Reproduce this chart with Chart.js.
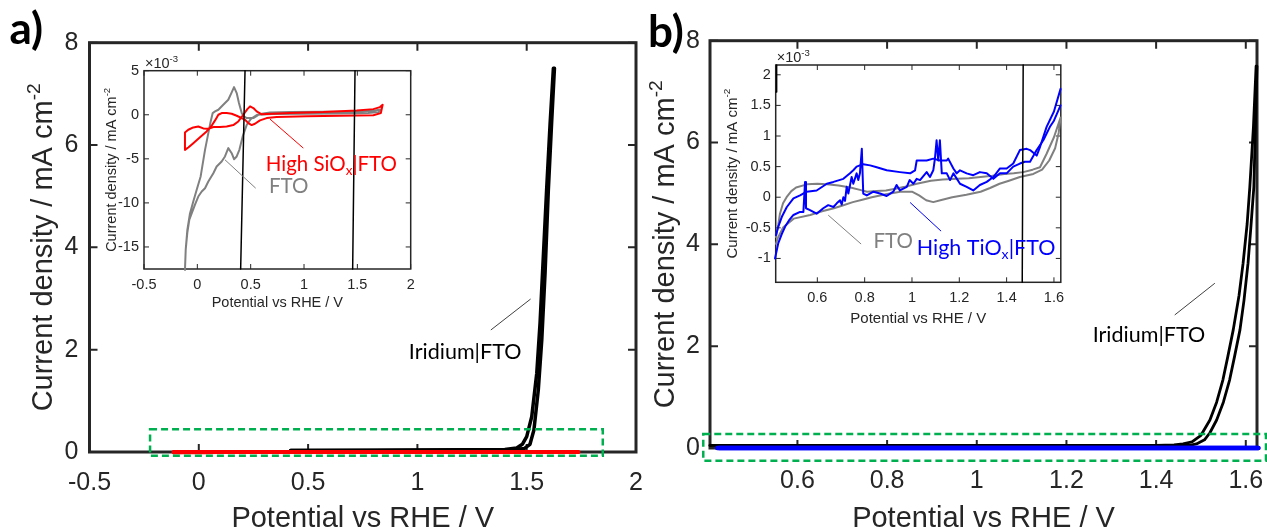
<!DOCTYPE html>
<html>
<head>
<meta charset="utf-8">
<title>OER sweeps on FTO</title>
<script src="https://cdn.jsdelivr.net/npm/chart.js@4.4.1/dist/chart.umd.min.js"></script>
<style>
  html, body { margin: 0; padding: 0; background: #fff; }
  #wrap { position: relative; width: 1267px; height: 531px; overflow: hidden; }
  #wrap canvas { position: absolute; left: 0; top: 0; }
</style>
</head>
<body>
<div id="wrap">
  <canvas id="mainA" width="1267" height="531"></canvas>
  <canvas id="mainB" width="1267" height="531"></canvas>
  <canvas id="insetA" width="1267" height="531"></canvas>
  <canvas id="insetB" width="1267" height="531"></canvas>
</div>
<script>
// ---- tick values ----
const potentialTicksA = [-0.5, 0, 0.5, 1, 1.5, 2];
const potentialTicksB = [0.6, 0.8, 1, 1.2, 1.4, 1.6];
const currentTicksMain = [0, 2, 4, 6, 8];
const currentTicksInsetA = [-15, -10, -5, 0, 5];
const currentTicksInsetB = [-1, -0.5, 0, 0.5, 1, 1.5, 2];

// ---- panel a: [potential V, current density mA cm-2] ----
const iridiumA1 = [[0.42, 0.03], [0.8, 0.03], [1.2, 0.04], [1.4, 0.05], [1.454, 0.08], [1.48, 0.15], [1.5, 0.3],
  [1.523, 0.69], [1.546, 1.54], [1.561, 2.52], [1.576, 3.82], [1.591, 5.12], [1.607, 6.42], [1.622, 7.5]];
const iridiumA2 = [[1.627, 7.5], [1.614, 6.43], [1.599, 5.12], [1.584, 3.49], [1.569, 2.19], [1.553, 1.21],
  [1.533, 0.43], [1.515, 0.15], [1.49, 0.07], [1.45, 0.05], [1.0, 0.04], [0.42, 0.03]];

// inset a, current density in 1e-3 mA cm-2
const ftoCvA = [[-0.116, -17.6], [-0.109, -15.3], [-0.094, -13.1], [-0.069, -11.2], [-0.038, -9.85], [-0.006, -8.5],
  [0.031, -7.0], [0.072, -3.98], [0.103, -2.08], [0.125, -0.76], [0.144, 0.19], [0.166, 0.38], [0.197, 0.57],
  [0.243, 1.14], [0.29, 1.7], [0.322, 2.54], [0.344, 3.14], [0.369, 2.46], [0.39, 1.33], [0.416, 0.19],
  [0.437, -0.19], [0.463, -0.38], [0.525, -0.38], [0.587, 0.1], [0.681, 0.25], [0.869, 0.3], [1.181, 0.33],
  [1.494, 0.38], [1.65, 0.45], [1.72, 0.6], [1.70, 0.3], [1.6, 0.2], [1.3, 0.15], [1.0, 0.12], [0.7, 0.1],
  [0.56, 0.0], [0.5, -0.5], [0.463, -1.14], [0.425, -2.46], [0.394, -3.98], [0.369, -4.73], [0.344, -5.04],
  [0.322, -4.36], [0.29, -3.79], [0.259, -4.73], [0.228, -5.3], [0.181, -5.87], [0.15, -6.63], [0.103, -7.58],
  [0.072, -8.33], [0.041, -8.71], [0.009, -9.28], [-0.022, -10.2], [-0.053, -11.2], [-0.075, -11.9],
  [-0.094, -13.4], [-0.109, -15.3], [-0.116, -17.6]];
const sioxCvA = [[-0.116, -2.01], [-0.085, -1.7], [-0.038, -1.44], [0.009, -1.33], [0.056, -1.55], [0.103, -1.59],
  [0.15, -1.4], [0.212, -1.4], [0.275, -1.33], [0.337, -1.17], [0.384, -0.76], [0.431, 0.0], [0.469, 0.64],
  [0.494, 0.95], [0.525, 0.76], [0.556, 0.38], [0.603, 0.05], [0.65, 0.1], [0.869, 0.2], [1.181, 0.3],
  [1.494, 0.49], [1.65, 0.64], [1.712, 0.87], [1.737, 1.14], [1.72, 0.19], [1.65, -0.05], [1.337, -0.12],
  [1.025, -0.18], [0.744, -0.25], [0.65, -0.38], [0.587, -0.64], [0.54, -1.02], [0.509, -1.17], [0.478, -0.95],
  [0.447, -0.57], [0.416, -0.38], [0.369, -0.11], [0.322, 0.11], [0.275, 0.19], [0.228, 0.19], [0.197, 0.0],
  [0.166, -0.64], [0.134, -1.25], [0.087, -1.89], [0.025, -2.54], [-0.038, -3.22], [-0.085, -3.71],
  [-0.116, -3.98], [-0.116, -2.01]];
const iridiumInsetA1 = [[0.406, -17.5], [0.447, 5]];
const iridiumInsetA2 = [[1.456, -17.5], [1.478, 5]];

// ---- panel b ----
const iridiumB1 = [[0.405, 0.05], [0.8, 0.05], [1.2, 0.05], [1.4, 0.05], [1.44, 0.06], [1.46, 0.08], [1.48, 0.12],
  [1.5, 0.25], [1.52, 0.55], [1.535, 0.9], [1.549, 1.34], [1.56, 1.8], [1.572, 2.32], [1.585, 3.0], [1.594, 3.63],
  [1.603, 4.4], [1.609, 5.13], [1.617, 6.3], [1.623, 7.5]];
const iridiumB2 = [[1.625, 7.5], [1.618, 5.13], [1.611, 4.3], [1.605, 3.63], [1.596, 2.9], [1.587, 2.32],
  [1.575, 1.8], [1.564, 1.34], [1.55, 0.9], [1.535, 0.55], [1.52, 0.3], [1.508, 0.16], [1.49, 0.08],
  [1.475, 0.05], [1.44, 0.05], [1.0, 0.05], [0.405, 0.05]];

// inset b, current density in 1e-3 mA cm-2
const ftoCvB = [[0.425, -0.65], [0.435, -0.45], [0.442, -0.27], [0.455, -0.1], [0.47, 0.0], [0.49, 0.1],
  [0.51, 0.16], [0.556, 0.21], [0.6, 0.22], [0.64, 0.21], [0.69, 0.19], [0.74, 0.16], [0.78, 0.12], [0.81, 0.09],
  [0.85, 0.1], [0.89, 0.11], [0.93, 0.14], [0.97, 0.17], [1.02, 0.22], [1.08, 0.27], [1.13, 0.29], [1.19, 0.3],
  [1.24, 0.31], [1.29, 0.33], [1.34, 0.35], [1.39, 0.38], [1.43, 0.39], [1.47, 0.41], [1.51, 0.45], [1.541, 0.49],
  [1.569, 0.71], [1.6, 0.98], [1.628, 1.3], [1.62, 1.05], [1.605, 0.8], [1.58, 0.6], [1.55, 0.45], [1.513, 0.38],
  [1.456, 0.33], [1.41, 0.27], [1.37, 0.22], [1.33, 0.15], [1.29, 0.09], [1.23, 0.04], [1.17, 0.0], [1.12, -0.05],
  [1.09, -0.08], [1.06, -0.05], [1.03, 0.03], [1.0, 0.09], [0.95, 0.09], [0.89, 0.05], [0.83, 0.0], [0.79, -0.04],
  [0.75, -0.08], [0.71, -0.13], [0.67, -0.18], [0.62, -0.23], [0.57, -0.29], [0.5, -0.35], [0.456, -0.49],
  [0.435, -0.65], [0.425, -0.76]];
const tioxAnodicB = [[0.421, -1.0], [0.435, -0.75], [0.45, -0.6], [0.464, -0.48], [0.48, -0.38], [0.499, -0.29],
  [0.527, -0.24], [0.541, -0.24], [0.548, 0.25], [0.552, -0.18], [0.569, -0.21], [0.597, -0.27], [0.625, -0.18],
  [0.646, -0.13], [0.668, -0.16], [0.682, -0.1], [0.696, -0.05], [0.703, -0.12], [0.71, 0.0], [0.717, -0.06],
  [0.724, 0.17], [0.731, 0.06], [0.745, 0.33], [0.752, 0.22], [0.766, 0.39], [0.773, 0.28], [0.78, 0.39],
  [0.788, 0.79], [0.794, 0.06], [0.809, 0.03], [0.837, 0.09], [0.865, 0.06], [0.893, 0.02], [0.921, 0.09],
  [0.935, 0.2], [0.949, 0.11], [0.978, 0.17], [0.99, 0.28], [1.006, 0.22], [1.02, 0.3], [1.034, 0.28],
  [1.062, 0.41], [1.076, 0.33], [1.09, 0.44], [1.097, 0.63], [1.104, 0.93], [1.111, 0.6], [1.118, 0.93],
  [1.126, 0.39], [1.147, 0.39], [1.161, 0.28], [1.175, 0.39], [1.203, 0.22], [1.231, 0.17], [1.259, 0.11],
  [1.287, 0.2], [1.316, 0.25], [1.344, 0.33], [1.372, 0.47], [1.4, 0.47], [1.428, 0.55], [1.456, 0.77],
  [1.485, 0.79], [1.499, 0.77], [1.527, 0.68], [1.541, 0.82], [1.569, 1.15], [1.6, 1.4], [1.628, 1.77]];
const tioxCathodicB = [[1.628, 1.5], [1.6, 1.25], [1.583, 1.15], [1.555, 0.93], [1.527, 0.77], [1.499, 0.58],
  [1.477, 0.58], [1.456, 0.55], [1.428, 0.5], [1.4, 0.39], [1.372, 0.39], [1.344, 0.3], [1.316, 0.39],
  [1.287, 0.41], [1.259, 0.36], [1.231, 0.39], [1.203, 0.44], [1.189, 0.39], [1.175, 0.47], [1.153, 0.63],
  [1.147, 0.6], [1.118, 0.6], [1.09, 0.63], [1.062, 0.6], [1.034, 0.6], [1.02, 0.6], [1.013, 0.44],
  [0.992, 0.39], [0.949, 0.41], [0.893, 0.44], [0.851, 0.49], [0.823, 0.52], [0.794, 0.54], [0.766, 0.5],
  [0.752, 0.44], [0.738, 0.39], [0.71, 0.3], [0.668, 0.25], [0.64, 0.22], [0.597, 0.11], [0.555, 0.09],
  [0.527, 0.03], [0.499, -0.02], [0.471, -0.16], [0.45, -0.32], [0.435, -0.48], [0.425, -0.62]];
const iridiumInsetB1 = [[1.466, -1.39], [1.47, 2.16]];
const iridiumInsetB2 = [[0.426, 1.72], [0.428, 2.16]];

// ---- drawing setup ----
const W = 1267, H = 531;
const AXIS_FONT = '"Liberation Sans", Arial, sans-serif';
const NOTE_FONT = 'Lato, "Open Sans", sans-serif';
const INK = '#262626';
const RED = '#ff0000', BLUE = '#0000ff', GREY = '#808080', BLACK = '#000000';
const MILLI = 1e-3;

const toPts = (pairs, k = 1) => pairs.map(([x, y]) => ({ x, y: y * k }));
const trace = (pairs, color, width, k = 1) => ({
  data: toPts(pairs, k), borderColor: color, borderWidth: width, showLine: true, clip: 4,
  pointRadius: 0, fill: false, tension: 0, borderJoinStyle: 'round', borderCapStyle: 'round'
});

// text made of plain / sub / sup runs
function runsWidth(ctx, runs, size, family) {
  let w = 0;
  for (const [t, mode] of runs) {
    ctx.font = `${mode ? size * 0.66 : size}px ${family}`;
    w += ctx.measureText(t).width;
  }
  return w;
}
function drawRuns(ctx, runs, x, y, size, family) {
  let cx = x;
  for (const [t, mode] of runs) {
    ctx.font = `${mode ? size * 0.66 : size}px ${family}`;
    const dy = mode === 'sub' ? size * 0.28 : mode === 'sup' ? -size * 0.42 : 0;
    ctx.fillText(t, cx, y + dy);
    cx += ctx.measureText(t).width;
  }
}

// box with inward tick marks on all four sides
const framePlugin = {
  id: 'frame',
  beforeDraw(chart, args, o) {
    if (!o.fill) return;
    const a = chart.chartArea, ctx = chart.ctx;
    ctx.save();
    ctx.fillStyle = o.fill;
    ctx.fillRect(a.left, a.top, a.width, a.height);
    ctx.restore();
  },
  beforeDatasetsDraw(chart, args, o) {
    const { ctx, chartArea: a, scales: { x, y } } = chart;
    ctx.save();
    ctx.strokeStyle = INK;
    ctx.lineWidth = o.tickWidth;
    ctx.beginPath();
    for (const t of x.ticks) {
      const px = x.getPixelForValue(t.value);
      ctx.moveTo(px, a.bottom); ctx.lineTo(px, a.bottom - o.tick);
      ctx.moveTo(px, a.top); ctx.lineTo(px, a.top + o.tick);
    }
    for (const t of y.ticks) {
      const py = y.getPixelForValue(t.value);
      ctx.moveTo(a.left, py); ctx.lineTo(a.left + o.tick, py);
      ctx.moveTo(a.right, py); ctx.lineTo(a.right - o.tick, py);
    }
    ctx.stroke();
    ctx.lineWidth = o.width;
    ctx.strokeRect(a.left, a.top, a.width, a.height);
    ctx.restore();
  }
};

// axis titles, labels, leader lines and highlight boxes
const notesPlugin = {
  id: 'notes',
  afterDraw(chart, args, o) {
    const { ctx, chartArea: a, scales: { x, y } } = chart;
    const px = v => x.getPixelForValue(v), py = v => y.getPixelForValue(v);
    ctx.save();
    ctx.fillStyle = INK;
    ctx.textBaseline = 'alphabetic';
    if (o.xTitle) {
      const runs = [[o.xTitle.text]];
      const w = runsWidth(ctx, runs, o.xTitle.size, AXIS_FONT);
      drawRuns(ctx, runs, (a.left + a.right) / 2 - w / 2, a.bottom + o.xTitle.gap, o.xTitle.size, AXIS_FONT);
    }
    if (o.yTitle) {
      const runs = [[o.yTitle.text], [o.yTitle.sup, 'sup']];
      const w = runsWidth(ctx, runs, o.yTitle.size, AXIS_FONT);
      ctx.save();
      ctx.translate(a.left - o.yTitle.gap, (a.top + a.bottom) / 2);
      ctx.rotate(-Math.PI / 2);
      drawRuns(ctx, runs, -w / 2, 0, o.yTitle.size, AXIS_FONT);
      ctx.restore();
    }
    if (o.exponent) {
      drawRuns(ctx, [['\u00d710'], ['-3', 'sup']], a.left + 1, a.top - o.exponent.gap, o.exponent.size, AXIS_FONT);
    }
    if (o.letter) {
      ctx.fillStyle = BLACK;
      ctx.font = `bold ${o.letter.size}px ${NOTE_FONT}`;
      ctx.fillText(o.letter.text, a.left + o.letter.dx, a.top + o.letter.dy);
    }
    for (const it of o.items || []) {
      if (it.kind === 'line') {
        ctx.strokeStyle = it.color;
        ctx.lineWidth = 1;
        ctx.beginPath();
        ctx.moveTo(px(it.from[0]), py(it.from[1]));
        ctx.lineTo(px(it.to[0]), py(it.to[1]));
        ctx.stroke();
      } else if (it.kind === 'rect') {
        ctx.strokeStyle = '#00b050';
        ctx.lineWidth = 2.5;
        ctx.setLineDash([7, 4]);
        const x0 = px(it.from[0]), y0 = py(it.from[1]);
        ctx.strokeRect(x0, y0, px(it.to[0]) - x0, py(it.to[1]) - y0);
        ctx.setLineDash([]);
      } else if (it.kind === 'text') {
        ctx.fillStyle = it.color;
        ctx.textBaseline = 'middle';
        drawRuns(ctx, it.runs, px(it.at[0]), py(it.at[1]), it.size, NOTE_FONT);
        ctx.textBaseline = 'alphabetic';
      }
    }
    ctx.restore();
  }
};

function makePlot(id, area, xr, yr, xTicks, yTicks, datasets, look) {
  const fmt = v => String(v);
  return new Chart(document.getElementById(id), {
    type: 'scatter',
    data: { datasets },
    options: {
      responsive: false,
      animation: false,
      events: [],
      layout: { padding: { left: 0, top: area.top, right: W - area.right, bottom: 0 } },
      plugins: {
        legend: { display: false },
        tooltip: { enabled: false },
        frame: look.frame,
        notes: look.notes
      },
      scales: {
        x: {
          type: 'linear', min: xr[0], max: xr[1],
          grid: { display: false, drawTicks: false },
          border: { display: false },
          ticks: { font: { family: AXIS_FONT, size: look.tickSize }, color: INK, padding: look.xPad,
                   maxRotation: 0, autoSkip: false, callback: fmt },
          afterBuildTicks: s => { s.ticks = xTicks.map(value => ({ value })); },
          afterFit: s => { s.height = H - area.bottom; s.paddingLeft = 0; s.paddingRight = 0; }
        },
        y: {
          type: 'linear', min: yr[0], max: yr[1],
          grid: { display: false, drawTicks: false },
          border: { display: false },
          ticks: { font: { family: AXIS_FONT, size: look.tickSize }, color: INK, padding: look.yPad,
                   autoSkip: false, callback: fmt },
          afterBuildTicks: s => { s.ticks = yTicks.map(value => ({ value })); },
          afterFit: s => { s.width = area.left; s.paddingTop = 0; s.paddingBottom = 0; }
        }
      }
    },
    plugins: [framePlugin, notesPlugin]
  });
}

const mainFrame = { width: 3, tick: 8, tickWidth: 2 };
const insetFrame = { width: 1.5, tick: 5, tickWidth: 1, fill: '#ffffff' };

// panel a, full scale
makePlot('mainA', { left: 89.5, top: 42.7, right: 636, bottom: 452 }, [-0.5, 2], [0, 8],
  potentialTicksA, currentTicksMain, [
    trace(sioxCvA, RED, 4, MILLI),
    trace(ftoCvA, GREY, 3, MILLI),
    trace(iridiumA1, BLACK, 3.5),
    trace(iridiumA2, BLACK, 3.5)
  ], {
    tickSize: 25, xPad: 16, yPad: 11, frame: mainFrame,
    notes: {
      letter: { text: 'a)', size: 44, dx: -80, dy: 1.5 },
      xTitle: { text: 'Potential vs RHE / V', size: 29, gap: 75 },
      yTitle: { text: 'Current density / mA cm', sup: '-2', size: 29, gap: 37.5 },
      items: [
        { kind: 'line', from: [1.336, 2.385], to: [1.518, 2.99], color: '#404040' },
        { kind: 'text', at: [0.961, 1.96], runs: [['Iridium|FTO']], size: 21.5, color: BLACK },
        { kind: 'rect', from: [-0.223, 0.444], to: [1.848, -0.072] }
      ]
    }
  });

// panel b, full scale
makePlot('mainB', { left: 710, top: 40.7, right: 1257, bottom: 448 }, [0.405, 1.625], [0, 8],
  potentialTicksB, currentTicksMain, [
    trace(tioxAnodicB, BLUE, 4.5, MILLI),
    trace(tioxCathodicB, BLUE, 4.5, MILLI),
    trace(ftoCvB, GREY, 3, MILLI),
    trace(iridiumB1, BLACK, 2.8),
    trace(iridiumB2, BLACK, 2.8)
  ], {
    tickSize: 25, xPad: 18, yPad: 10, frame: mainFrame,
    notes: {
      letter: { text: 'b)', size: 44, dx: -62, dy: 6 },
      xTitle: { text: 'Potential vs RHE / V', size: 29, gap: 79 },
      yTitle: { text: 'Current density / mA cm', sup: '-2', size: 29, gap: 36 },
      items: [
        { kind: 'line', from: [1.4415, 2.613], to: [1.531, 3.236], color: '#404040' },
        { kind: 'text', at: [1.2585, 2.22], runs: [['Iridium|FTO']], size: 21.5, color: BLACK },
        { kind: 'rect', from: [0.39, 0.275], to: [1.645, -0.25] }
      ]
    }
  });

// panel a inset, 1e-3 scale
makePlot('insetA', { left: 144, top: 70.7, right: 410.7, bottom: 269 }, [-0.5, 2], [-17.5, 5],
  potentialTicksA, currentTicksInsetA, [
    trace(iridiumInsetA1, BLACK, 1.5),
    trace(iridiumInsetA2, BLACK, 1.5),
    trace(sioxCvA, RED, 2),
    trace(ftoCvA, GREY, 2)
  ], {
    tickSize: 14.5, xPad: 7, yPad: 5, frame: insetFrame,
    notes: {
      exponent: { size: 14.5, gap: 3 },
      xTitle: { text: 'Potential vs RHE / V', size: 14.5, gap: 38 },
      yTitle: { text: 'Current density / mA cm', sup: '-2', size: 14.5, gap: 28 },
      items: [
        { kind: 'line', from: [0.681, -0.49], to: [0.993, -3.78], color: RED },
        { kind: 'line', from: [0.259, -5.11], to: [0.547, -8.33], color: GREY },
        { kind: 'text', at: [0.641, -5.68], runs: [['High SiO'], ['x', 'sub'], ['|FTO']], size: 20.5, color: RED },
        { kind: 'text', at: [0.672, -8.15], runs: [['FTO']], size: 20.5, color: GREY }
      ]
    }
  });

// panel b inset, 1e-3 scale
makePlot('insetB', { left: 775.7, top: 65, right: 1060.8, bottom: 282.3 }, [0.424, 1.629], [-1.39, 2.16],
  potentialTicksB, currentTicksInsetB, [
    trace(iridiumInsetB1, BLACK, 1.5),
    trace(iridiumInsetB2, BLACK, 1.5),
    trace(tioxAnodicB, BLUE, 2),
    trace(tioxCathodicB, BLUE, 2),
    trace(ftoCvB, GREY, 2)
  ], {
    tickSize: 14.5, xPad: 7, yPad: 5, frame: insetFrame,
    notes: {
      exponent: { size: 14.5, gap: 3 },
      xTitle: { text: 'Potential vs RHE / V', size: 15, gap: 41 },
      yTitle: { text: 'Current density / mA cm', sup: '-2', size: 15, gap: 39 },
      items: [
        { kind: 'line', from: [0.646, -0.293], to: [0.785, -0.765], color: GREY },
        { kind: 'line', from: [0.992, -0.086], to: [1.123, -0.554], color: BLUE },
        { kind: 'text', at: [0.837, -0.728], runs: [['FTO']], size: 20.5, color: GREY },
        { kind: 'text', at: [1.02, -0.835], runs: [['High TiO'], ['x', 'sub'], ['|FTO']], size: 21.5, color: BLUE }
      ]
    }
  });
</script>
</body>
</html>
